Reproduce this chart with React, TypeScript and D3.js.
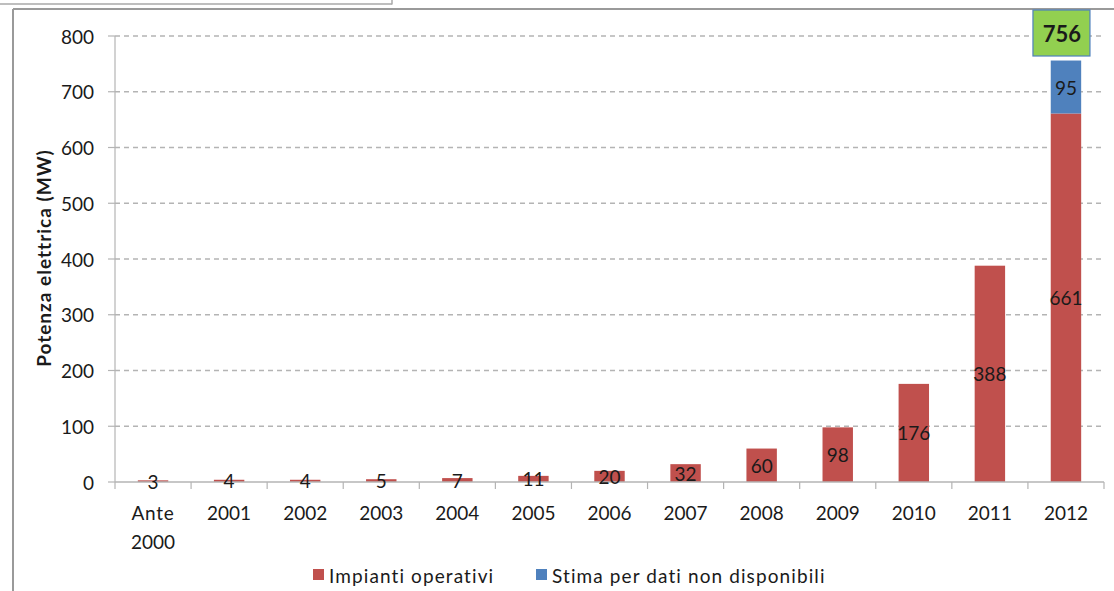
import React from "react";
import * as d3 from "d3";

// Installed electrical capacity (MW) per year
const categories = ["Ante 2000", "2001", "2002", "2003", "2004", "2005", "2006", "2007", "2008", "2009", "2010", "2011", "2012"];
const operativi = [3, 4, 4, 5, 7, 11, 20, 32, 60, 98, 176, 388, 661];
const stima = [0, 0, 0, 0, 0, 0, 0, 0, 0, 0, 0, 0, 95];
const seriesNames = ["Impianti operativi", "Stima per dati non disponibili"];
const yTicks = [0, 100, 200, 300, 400, 500, 600, 700, 800];
const yTitle = "Potenza elettrica (MW)";

const W = 1114;
const H = 591;
const FONT = "Lato, 'Open Sans', sans-serif";
const RED = "#c0504d";
const BLUE = "#4f81bd";
const GREEN = "#92d050";
const GRID = "#b4b4b4";
const TEXT = "#1a1a1a";

export default function App() {
  const rows = categories.map((c, i) => ({ cat: c, op: operativi[i], st: stima[i] }));
  const stack = d3.stack<any>().keys(["op", "st"])(rows);

  const x = d3.scaleBand().domain(categories).range([115, 1104]).padding(0);
  const y = d3.scaleLinear().domain([0, 800]).range([482, 36]);
  const bw = x.bandwidth() * 0.4;
  const colors = [RED, BLUE];

  const last = categories.length - 1;
  const total = operativi[last] + stima[last];
  const totX = (x(categories[last]) as number) + x.bandwidth() / 2 - 4;

  return (
    <div style={{ position: "absolute", left: 0, top: 0, width: W, height: H, background: "#fff" }}>
      <svg width={W} height={H} style={{ display: "block", fontFamily: FONT }}>
        {/* surrounding frames */}
        <line x1={0} y1={4} x2={392} y2={4} stroke="#a8a8a8" strokeWidth={1.5} />
        <line x1={392} y1={0} x2={392} y2={4.5} stroke="#a8a8a8" strokeWidth={1.5} />
        <line x1={13} y1={9} x2={W} y2={9} stroke="#9a9a9a" strokeWidth={2} />
        <line x1={13} y1={9} x2={13} y2={H} stroke="#9a9a9a" strokeWidth={2} />

        {/* grid lines and y ticks */}
        {yTicks.map((t) => (
          <g key={t}>
            {t > 0 && (
              <line x1={115} x2={1104} y1={y(t)} y2={y(t)} stroke={GRID} strokeWidth={1.5} strokeDasharray="5,4" />
            )}
            <line x1={108} x2={115} y1={y(t)} y2={y(t)} stroke={GRID} strokeWidth={1.2} />
            <text x={94} y={y(t)} textAnchor="end" dominantBaseline="central" fontSize={19} fill={TEXT}>
              {t}
            </text>
          </g>
        ))}
        <line x1={115} x2={115} y1={36} y2={482} stroke={GRID} strokeWidth={1.2} />

        {/* y title */}
        <text
          transform={`translate(43,${258}) rotate(-90)`}
          textAnchor="middle"
          dominantBaseline="central"
          fontSize={19}
          fontWeight="bold"
          letterSpacing={1}
          fill={TEXT}
        >
          {yTitle}
        </text>

        {/* bars */}
        {stack.map((s, si) =>
          s.map((d, i) => {
            const h = y(d[0]) - y(d[1]);
            if (h <= 0) return null;
            const bx = (x(categories[i]) as number) + (x.bandwidth() - bw) / 2;
            return <rect key={`${si}-${i}`} x={bx} y={y(d[1])} width={bw} height={h} fill={colors[si]} />;
          })
        )}

        {/* x axis */}
        <line x1={115} x2={1104} y1={482} y2={482} stroke={GRID} strokeWidth={1.5} />
        {categories.map((c) => (
          <line key={c} x1={x(c) as number} x2={x(c) as number} y1={482} y2={489} stroke={GRID} strokeWidth={1.2} />
        ))}
        <line x1={1104} x2={1104} y1={482} y2={489} stroke={GRID} strokeWidth={1.2} />

        {/* value labels */}
        {stack.map((s, si) =>
          s.map((d, i) => {
            const v = d[1] - d[0];
            if (v <= 0) return null;
            const cx = (x(categories[i]) as number) + x.bandwidth() / 2;
            return (
              <text
                key={`l${si}-${i}`}
                x={cx}
                y={(y(d[0]) + y(d[1])) / 2}
                textAnchor="middle"
                dominantBaseline="central"
                fontSize={19}
                fill={TEXT}
              >
                {v}
              </text>
            );
          })
        )}

        {/* total label */}
        <rect x={totX - 29} y={10} width={57} height={46} fill={GREEN} stroke={BLUE} strokeWidth={1.2} />
        <text x={totX} y={33} textAnchor="middle" dominantBaseline="central" fontSize={22} fontWeight="bold" fill={TEXT}>
          {total}
        </text>

        {/* category labels */}
        {categories.map((c) => {
          const cx = (x(c) as number) + x.bandwidth() / 2;
          const parts = c.split(" ");
          return (
            <text key={`c${c}`} x={cx} textAnchor="middle" fontSize={19} fill={TEXT}>
              {parts.map((p, k) => (
                <tspan key={k} x={cx} y={512 + k * 29} dominantBaseline="central" letterSpacing={/\d/.test(p) ? 0 : 0.8}>
                  {p}
                </tspan>
              ))}
            </text>
          );
        })}

        {/* legend */}
        {seriesNames.map((n, i) => {
          const lx = [313, 536][i];
          return (
            <g key={n}>
              <rect x={lx} y={569} width={11} height={11} fill={colors[i]} />
              <text x={lx + 16} y={575} dominantBaseline="central" fontSize={19} letterSpacing={1.1} fill={TEXT}>
                {n}
              </text>
            </g>
          );
        })}
      </svg>
    </div>
  );
}
